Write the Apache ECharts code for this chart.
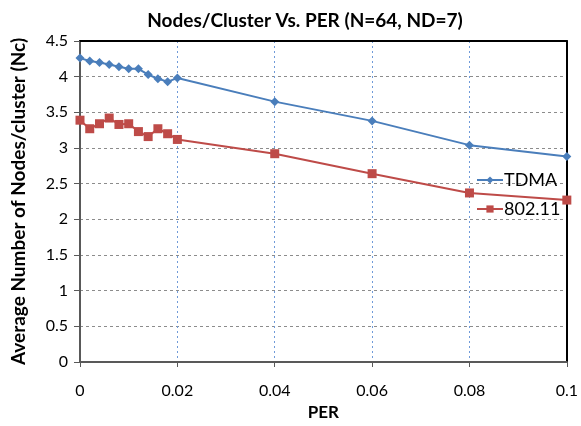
<!DOCTYPE html>
<html>
<head>
<meta charset="utf-8">
<script src="https://cdn.jsdelivr.net/npm/echarts@6/dist/echarts.min.js"></script>
<style>
  html, body { margin: 0; padding: 0; background: #fff; }
  #chart { width: 581px; height: 426px; }
</style>
</head>
<body>
<div id="chart"></div>
<script>
// PER values on x axis
var perValues = [0, 0.002, 0.004, 0.006, 0.008, 0.01, 0.012, 0.014, 0.016, 0.018, 0.02, 0.04, 0.06, 0.08, 0.1];
// average nodes per cluster
var tdmaValues = [4.26, 4.22, 4.20, 4.17, 4.14, 4.11, 4.11, 4.03, 3.97, 3.93, 3.98, 3.65, 3.38, 3.04, 2.88];
var wifiValues = [3.39, 3.27, 3.34, 3.42, 3.33, 3.34, 3.23, 3.16, 3.27, 3.20, 3.12, 2.92, 2.64, 2.37, 2.27];
var seriesNames = ['TDMA', '802.11'];

function pairs(xs, ys) {
    return xs.map(function (x, i) { return [x, ys[i]]; });
}

var font = 'Lato, "Liberation Sans", sans-serif';

// plain black frame lines on top and right
var frameAxis = {
    type: 'value',
    axisLine: { show: true, onZero: false, lineStyle: { color: '#000', width: 2 } },
    axisTick: { show: false },
    axisLabel: { show: false },
    splitLine: { show: false }
};

var option = {
    animation: false,
    backgroundColor: '#fff',
    title: {
        text: 'Nodes/Cluster Vs. PER (N=64, ND=7)',
        left: 300,
        textAlign: 'center',
        top: 6,
        textStyle: { fontFamily: font, fontSize: 19, fontWeight: 'bold', color: '#000' }
    },
    legend: {
        orient: 'vertical',
        left: 471,
        top: 166,
        itemWidth: 26,
        itemHeight: 9,
        itemGap: 11,
        data: seriesNames,
        textStyle: { fontFamily: font, fontSize: 18, color: '#000', padding: [0, 0, 0, -4] }
    },
    grid: {
        left: 80,
        right: 13,
        top: 41,
        bottom: 58
    },
    xAxis: [{
        type: 'value',
        min: 0,
        max: 0.1,
        interval: 0.02,
        name: 'PER',
        nameLocation: 'middle',
        nameGap: 42,
        nameTextStyle: { fontFamily: font, fontSize: 17, fontWeight: 'bold', color: '#000' },
        axisLine: { show: true, onZero: false, lineStyle: { color: '#595959', width: 2 } },
        axisTick: { show: true, length: 5, lineStyle: { color: '#595959' } },
        axisLabel: {
            margin: 21,
            fontFamily: font, fontSize: 16, color: '#000',
            formatter: function (v) { return String(+v.toFixed(3)); }
        },
        splitLine: {
            show: true, showMinLine: false, showMaxLine: false,
            lineStyle: { color: '#6f9ad8', type: [2, 3], width: 1 }
        }
    }, Object.assign({ position: 'top', min: 0, max: 0.1 }, frameAxis)],
    yAxis: [{
        type: 'value',
        min: 0,
        max: 4.5,
        interval: 0.5,
        name: 'Average Number of Nodes/cluster (Nc)',
        nameLocation: 'middle',
        nameGap: 52,
        nameTextStyle: { fontFamily: font, fontSize: 19, fontWeight: 'bold', color: '#000' },
        axisLine: { show: true, onZero: false, lineStyle: { color: '#595959', width: 2 } },
        axisTick: { show: true, length: 6, lineStyle: { color: '#595959' } },
        axisLabel: {
            margin: 12,
            fontFamily: font, fontSize: 16, color: '#000',
            formatter: function (v) { return String(+v.toFixed(1)); }
        },
        splitLine: {
            show: true, showMinLine: false, showMaxLine: false,
            lineStyle: { color: '#8c8c8c', type: [3, 3], width: 1 }
        }
    }, Object.assign({ position: 'right', min: 0, max: 4.5 }, frameAxis)],
    series: [{
        name: seriesNames[0],
        type: 'line',
        data: pairs(perValues, tdmaValues),
        symbol: 'diamond',
        symbolSize: 9,
        itemStyle: { color: '#4a7ebb' },
        lineStyle: { color: '#4a7ebb', width: 2 }
    }, {
        name: seriesNames[1],
        type: 'line',
        data: pairs(perValues, wifiValues),
        symbol: 'rect',
        symbolSize: 9,
        itemStyle: { color: '#be4b48' },
        lineStyle: { color: '#be4b48', width: 2 }
    }]
};

var chart = echarts.init(document.getElementById('chart'));
chart.setOption(option);
</script>
</body>
</html>
